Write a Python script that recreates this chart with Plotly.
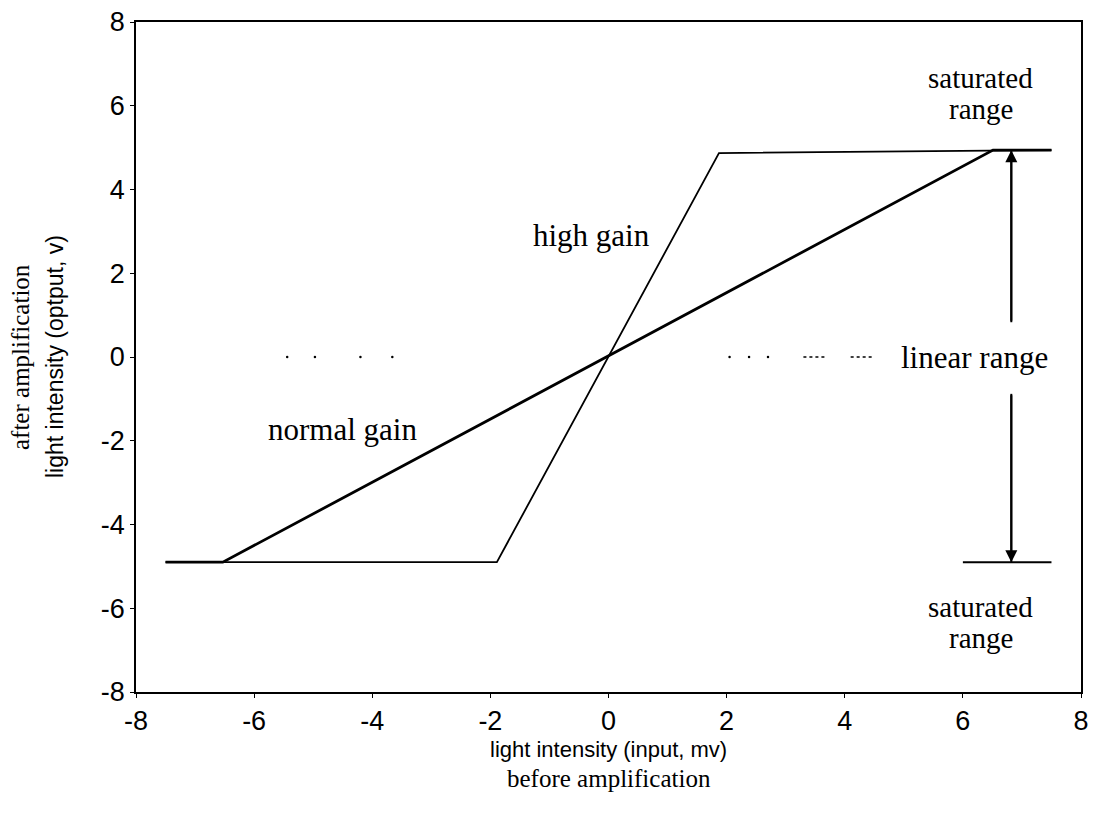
import plotly.graph_objects as go

# input (mv) / output (v) break points
normal_x = [-7.5, -6.53, 6.51, 7.5]
normal_y = [-4.9, -4.9, 4.94, 4.94]
high_x = [-7.5, -1.89, 1.87, 7.5]
high_y = [-4.9, -4.9, 4.87, 4.94]

# faint dotted guide along y = 0
dots_left_x = [-5.44, -4.97, -4.2, -3.66]
dots_right_x = [2.05, 2.38, 2.7]
dash_segs_x = [[3.3, 3.67], [4.1, 4.47]]

# range marker (vertical arrows and bottom bar)
marker_x = 6.82
arrow_up = [0.83, 4.94]
arrow_down = [-0.88, -4.9]
bar_x = [6.0, 7.5]
bar_y = -4.9

ticks = [-8, -6, -4, -2, 0, 2, 4, 6, 8]
tick_text = [str(t) for t in ticks]

serif = "Liberation Serif"
sans = "Liberation Sans"

fig = go.Figure()
fig.add_trace(go.Scatter(x=normal_x, y=normal_y, mode="lines",
                         line=dict(color="black", width=2.8)))
fig.add_trace(go.Scatter(x=high_x, y=high_y, mode="lines",
                         line=dict(color="black", width=1.8)))
fig.add_trace(go.Scatter(x=dots_left_x + dots_right_x,
                         y=[0] * (len(dots_left_x) + len(dots_right_x)),
                         mode="markers", marker=dict(color="black", size=2.5)))
for seg in dash_segs_x:
    fig.add_trace(go.Scatter(x=seg, y=[0, 0], mode="lines",
                             line=dict(color="black", width=1.5, dash="dot")))
fig.add_trace(go.Scatter(x=bar_x, y=[bar_y, bar_y], mode="lines",
                         line=dict(color="black", width=2)))
fig.add_trace(go.Scatter(x=[marker_x, marker_x], y=arrow_up, mode="lines",
                         line=dict(color="black", width=2)))
fig.add_trace(go.Scatter(x=[marker_x, marker_x], y=arrow_down, mode="lines",
                         line=dict(color="black", width=2)))

# arrow heads
for tail, tip in [(arrow_up[0], arrow_up[1]), (arrow_down[0], arrow_down[1])]:
    fig.add_annotation(x=marker_x, y=tip, ax=marker_x, ay=tail,
                       xref="x", yref="y", axref="x", ayref="y",
                       text="", showarrow=True, arrowhead=2, arrowsize=1.2,
                       arrowwidth=2, arrowcolor="black")

labels = [
    ("high gain", -0.28, 2.9, 31),
    ("normal gain", -4.5, -1.72, 31),
    ("linear range", 6.2, 0.0, 31),
    ("saturated", 6.3, 6.66, 29),
    ("range", 6.3, 5.92, 29),
    ("saturated", 6.3, -5.98, 29),
    ("range", 6.3, -6.72, 29),
]
for txt, x, y, sz in labels:
    fig.add_annotation(x=x, y=y, xref="x", yref="y", text=txt, showarrow=False,
                       xanchor="center", yanchor="middle",
                       font=dict(family=serif, size=sz, color="black"))

# axis titles (two lines each, mixed fonts)
titles = [
    ("light intensity (input, mv)", 0.5, 0, 0, -57, 0, sans, 22),
    ("before amplification", 0.5, 0, 0, -86, 0, serif, 25),
    ("light intensity (optput, v)", 0, 0.5, -81, 0, -90, sans, 23),
    ("after amplification", 0, 0.5, -116, 0, -90, serif, 25),
]
for txt, x, y, xs, ys, ang, fam, sz in titles:
    fig.add_annotation(x=x, y=y, xref="paper", yref="paper", xshift=xs, yshift=ys,
                       text=txt, showarrow=False, textangle=ang,
                       xanchor="center", yanchor="middle",
                       font=dict(family=fam, size=sz, color="black"))

axis = dict(range=[-8, 8], tickvals=ticks, ticktext=tick_text,
            showgrid=False, zeroline=False, automargin=False,
            ticklabeloverflow="allow",
            showline=True, linecolor="black", linewidth=1.5, mirror=True,
            ticks="outside", ticklen=4, tickcolor="black", tickwidth=1.2,
            tickfont=dict(family=sans, size=27, color="black"))

fig.update_layout(
    width=1088, height=808,
    paper_bgcolor="white", plot_bgcolor="white",
    showlegend=False,
    margin=dict(l=128, r=15, t=14, b=124),
    xaxis=axis, yaxis=axis,
)

fig.write_html("out.html")
